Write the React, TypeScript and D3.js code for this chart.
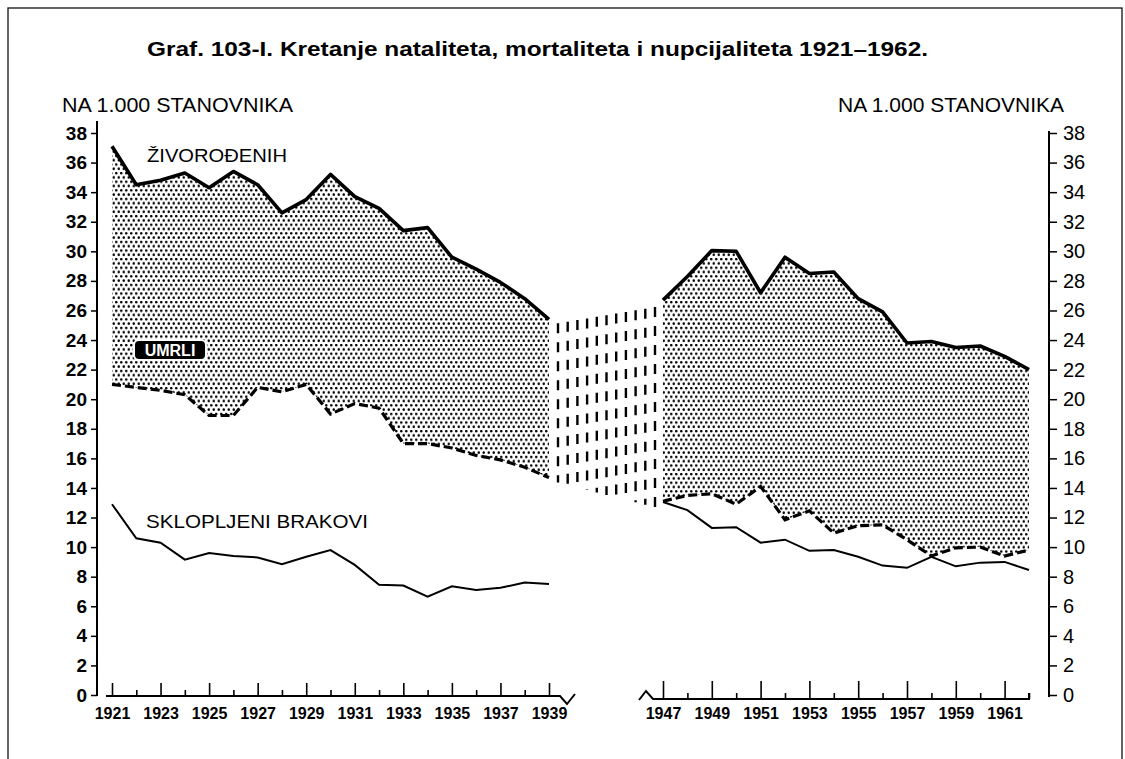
import React from "react";
import * as d3 from "d3";

// 1921-1939 (prije rata)
const yearsA = [1921, 1922, 1923, 1924, 1925, 1926, 1927, 1928, 1929, 1930, 1931, 1932, 1933, 1934, 1935, 1936, 1937, 1938, 1939];
const birthsA = [37.1, 34.5, 34.8, 35.3, 34.3, 35.4, 34.5, 32.6, 33.5, 35.2, 33.7, 32.9, 31.4, 31.6, 29.6, 28.8, 27.9, 26.8, 25.4];
const deathsA = [21.0, 20.8, 20.6, 20.3, 18.9, 18.9, 20.8, 20.5, 21.0, 19.0, 19.7, 19.4, 17.0, 17.0, 16.7, 16.2, 15.9, 15.4, 14.7];
const marriagesA = [12.9, 10.6, 10.3, 9.15, 9.6, 9.4, 9.3, 8.85, 9.35, 9.8, 8.8, 7.45, 7.4, 6.65, 7.35, 7.1, 7.25, 7.6, 7.5];

// 1947-1962 (poslije rata)
const yearsB = [1947, 1948, 1949, 1950, 1951, 1952, 1953, 1954, 1955, 1956, 1957, 1958, 1959, 1960, 1961, 1962];
const birthsB = [26.7, 28.3, 30.05, 30.0, 27.2, 29.6, 28.5, 28.6, 26.8, 25.9, 23.8, 23.9, 23.5, 23.6, 22.9, 22.0];
const deathsB = [13.1, 13.5, 13.6, 12.9, 14.1, 11.85, 12.45, 10.95, 11.45, 11.5, 10.5, 9.4, 9.95, 10.0, 9.4, 9.8];
const marriagesB = [13.05, 12.5, 11.3, 11.35, 10.3, 10.5, 9.75, 9.8, 9.35, 8.75, 8.6, 9.35, 8.7, 8.95, 9.0, 8.45];

const yTicks = [0, 2, 4, 6, 8, 10, 12, 14, 16, 18, 20, 22, 24, 26, 28, 30, 32, 34, 36, 38];
const labelYearsA = [1921, 1923, 1925, 1927, 1929, 1931, 1933, 1935, 1937, 1939];
const minorYearsA = [1922, 1924, 1926, 1928, 1930, 1932, 1934, 1936, 1938];
const labelYearsB = [1947, 1949, 1951, 1953, 1955, 1957, 1959, 1961];
const minorYearsB = [1948, 1950, 1952, 1954, 1956, 1958, 1960, 1962];

const title = "Graf. 103-I. Kretanje nataliteta, mortaliteta i nupcijaliteta 1921–1962.";
const unitLabel = "NA 1.000 STANOVNIKA";

const FONT = "'Liberation Sans', Arial, sans-serif";

class App extends React.Component {
	svgRef = React.createRef<SVGSVGElement>();

	componentDidMount() {
		this.drawChart();
	}

	drawChart() {
		const svg = d3.select(this.svgRef.current);
		svg.selectAll("*").remove();

		//Scales - broken x axis, two pieces
		const y = d3.scaleLinear().domain([0, 38]).range([695, 133]);
		const xA = d3.scaleLinear().domain([1921, 1939]).range([112, 549]);
		const xB = d3.scaleLinear().domain([1947, 1962]).range([663, 1029]);

		const rowsA = yearsA.map((yr, i) => ({ year: yr, b: birthsA[i], d: deathsA[i], m: marriagesA[i] }));
		const rowsB = yearsB.map((yr, i) => ({ year: yr, b: birthsB[i], d: deathsB[i], m: marriagesB[i] }));

		//frame
		svg.append("rect")
			.attr("x", 8).attr("y", 8)
			.attr("width", 1114).attr("height", 800)
			.attr("fill", "none").attr("stroke", "#111").attr("stroke-width", 1.3);

		//dot screen pattern
		const pat = svg.append("defs").append("pattern")
			.attr("id", "dots")
			.attr("patternUnits", "userSpaceOnUse")
			.attr("width", 5).attr("height", 8.6);
		pat.append("circle").attr("cx", 1.25).attr("cy", 1.1).attr("r", 1.25).attr("fill", "#000");
		pat.append("circle").attr("cx", 3.75).attr("cy", 5.4).attr("r", 1.25).attr("fill", "#000");

		//Title + unit labels
		svg.append("text")
			.attr("x", 147).attr("y", 56)
			.attr("textLength", 781).attr("lengthAdjust", "spacingAndGlyphs")
			.style("font", `bold 20px ${FONT}`)
			.text(title);
		svg.append("text")
			.attr("x", 62).attr("y", 112)
			.attr("textLength", 231).attr("lengthAdjust", "spacingAndGlyphs")
			.style("font", `20px ${FONT}`)
			.text(unitLabel);
		svg.append("text")
			.attr("x", 838).attr("y", 112)
			.attr("textLength", 226).attr("lengthAdjust", "spacingAndGlyphs")
			.style("font", `20px ${FONT}`)
			.text(unitLabel);

		//dotted areas between births and deaths
		const area = (x) => d3.area<any>()
			.x(d => x(d.year))
			.y0(d => y(d.d))
			.y1(d => y(d.b));
		[[rowsA, xA], [rowsB, xB]].forEach(([rows, x]: any) => {
			svg.append("path").attr("d", area(x)(rows)).attr("fill", "url(#dots)");
		});

		//gap 1940-1946: vertical dashed hatch
		const gx0 = xA(1939) + 9;
		const gx1 = xB(1947) - 8;
		const topI = d3.interpolateNumber(y(birthsA[birthsA.length - 1]) + 4, y(birthsB[0]) + 7);
		const botI = d3.interpolateNumber(y(deathsA[deathsA.length - 1]) + 5, y(deathsB[0]) + 6);
		const nGap = 11;
		for (let i = 0; i < nGap; i++) {
			const t = i / (nGap - 1);
			svg.append("line")
				.attr("x1", gx0 + t * (gx1 - gx0)).attr("x2", gx0 + t * (gx1 - gx0))
				.attr("y1", topI(t)).attr("y2", botI(t))
				.attr("stroke", "#000").attr("stroke-width", 2.4)
				.attr("stroke-dasharray", "10 9");
		}

		//lines
		const mkLine = (x, key) => d3.line<any>().x(d => x(d.year)).y(d => y(d[key]));
		[[rowsA, xA], [rowsB, xB]].forEach(([rows, x]: any) => {
			svg.append("path").attr("d", mkLine(x, "m")(rows))
				.attr("fill", "none").attr("stroke", "#000").attr("stroke-width", 2);
			svg.append("path").attr("d", mkLine(x, "d")(rows))
				.attr("fill", "none").attr("stroke", "#000").attr("stroke-width", 3.2)
				.attr("stroke-dasharray", "9 4");
			svg.append("path").attr("d", mkLine(x, "b")(rows))
				.attr("fill", "none").attr("stroke", "#000").attr("stroke-width", 3.6)
				.attr("stroke-linejoin", "round");
		});

		//Series labels
		svg.append("text")
			.attr("x", 147).attr("y", 162)
			.attr("textLength", 140).attr("lengthAdjust", "spacingAndGlyphs")
			.style("font", `18px ${FONT}`)
			.text("ŽIVOROĐENIH");
		svg.append("rect")
			.attr("x", 134).attr("y", 340).attr("width", 72).attr("height", 20).attr("rx", 5)
			.attr("fill", "#000").attr("stroke", "#fff").attr("stroke-width", 2);
		svg.append("text")
			.attr("x", 170).attr("y", 356)
			.attr("text-anchor", "middle")
			.attr("fill", "#fff")
			.style("font", `bold 16px ${FONT}`)
			.text("UMRLI");
		svg.append("text")
			.attr("x", 146).attr("y", 528)
			.attr("textLength", 222).attr("lengthAdjust", "spacingAndGlyphs")
			.style("font", `18.5px ${FONT}`)
			.text("SKLOPLJENI BRAKOVI");

		//Y axes
		const yLeft = d3.axisLeft(y).tickValues(yTicks).tickSizeInner(6).tickSizeOuter(0).tickPadding(4);
		const gl = svg.append("g").attr("transform", "translate(97,0)").call(yLeft);
		gl.select(".domain").remove();
		gl.selectAll("text").style("font", `bold 19px ${FONT}`).attr("fill", "#000");
		gl.selectAll("line").attr("stroke-width", 1.5);
		svg.append("line").attr("x1", 97).attr("x2", 97).attr("y1", y(38) - 12).attr("y2", y(0) + 1)
			.attr("stroke", "#000").attr("stroke-width", 2);

		const yRight = d3.axisRight(y).tickValues(yTicks).tickSizeInner(8).tickSizeOuter(0).tickPadding(6);
		const gr = svg.append("g").attr("transform", "translate(1049,0)").call(yRight);
		gr.select(".domain").remove();
		gr.selectAll("text").style("font", `20px ${FONT}`).attr("fill", "#000");
		gr.selectAll("line").attr("stroke-width", 1.5);
		svg.append("line").attr("x1", 1049).attr("x2", 1049).attr("y1", y(38) - 2).attr("y2", y(0) + 2)
			.attr("stroke", "#000").attr("stroke-width", 2);

		//X axes - ticks pointing up
		const baseA = 696;
		const baseB = 699;
		const xAxisA = d3.axisBottom(xA).tickValues(labelYearsA).tickSize(-13).tickPadding(12).tickFormat(d3.format("d"));
		const gxa = svg.append("g").attr("transform", `translate(0,${baseA})`).call(xAxisA);
		gxa.select(".domain").remove();
		const gxaMinor = svg.append("g").attr("transform", `translate(0,${baseA})`)
			.call(d3.axisBottom(xA).tickValues(minorYearsA).tickSize(-6).tickFormat(() => ""));
		gxaMinor.select(".domain").remove();

		const xAxisB = d3.axisBottom(xB).tickValues(labelYearsB).tickSize(-18).tickPadding(9).tickFormat(d3.format("d"));
		const gxb = svg.append("g").attr("transform", `translate(0,${baseB})`).call(xAxisB);
		gxb.select(".domain").remove();
		const gxbMinor = svg.append("g").attr("transform", `translate(0,${baseB})`)
			.call(d3.axisBottom(xB).tickValues(minorYearsB).tickSize(-6).tickFormat(() => ""));
		gxbMinor.select(".domain").remove();

		[gxa, gxb].forEach(g => g.selectAll("text").style("font", `bold 16px ${FONT}`).attr("fill", "#000"));
		[gxa, gxb, gxaMinor, gxbMinor].forEach(g => g.selectAll("line").attr("stroke-width", 1.6));

		//baselines with break marks
		const endA = xA(1939);
		const startB = xB(1947);
		svg.append("path")
			.attr("d", `M${xA(1921) - 6},${baseA}H${endA + 11}L${endA + 18},${baseA + 8}L${endA + 26},${baseA - 2}`)
			.attr("fill", "none").attr("stroke", "#000").attr("stroke-width", 2);
		svg.append("path")
			.attr("d", `M${startB - 24},${baseB + 1}L${startB - 17},${baseB - 8}L${startB - 10},${baseB}H${xB(1962)}V${baseB - 6}`)
			.attr("fill", "none").attr("stroke", "#000").attr("stroke-width", 2);
	}

	render() {
		return (
			<svg
				ref={this.svgRef}
				width={1125}
				height={759}
				style={{ position: "absolute", left: 0, top: 0, background: "#fff" }}
			/>
		);
	}
}

export default App;
